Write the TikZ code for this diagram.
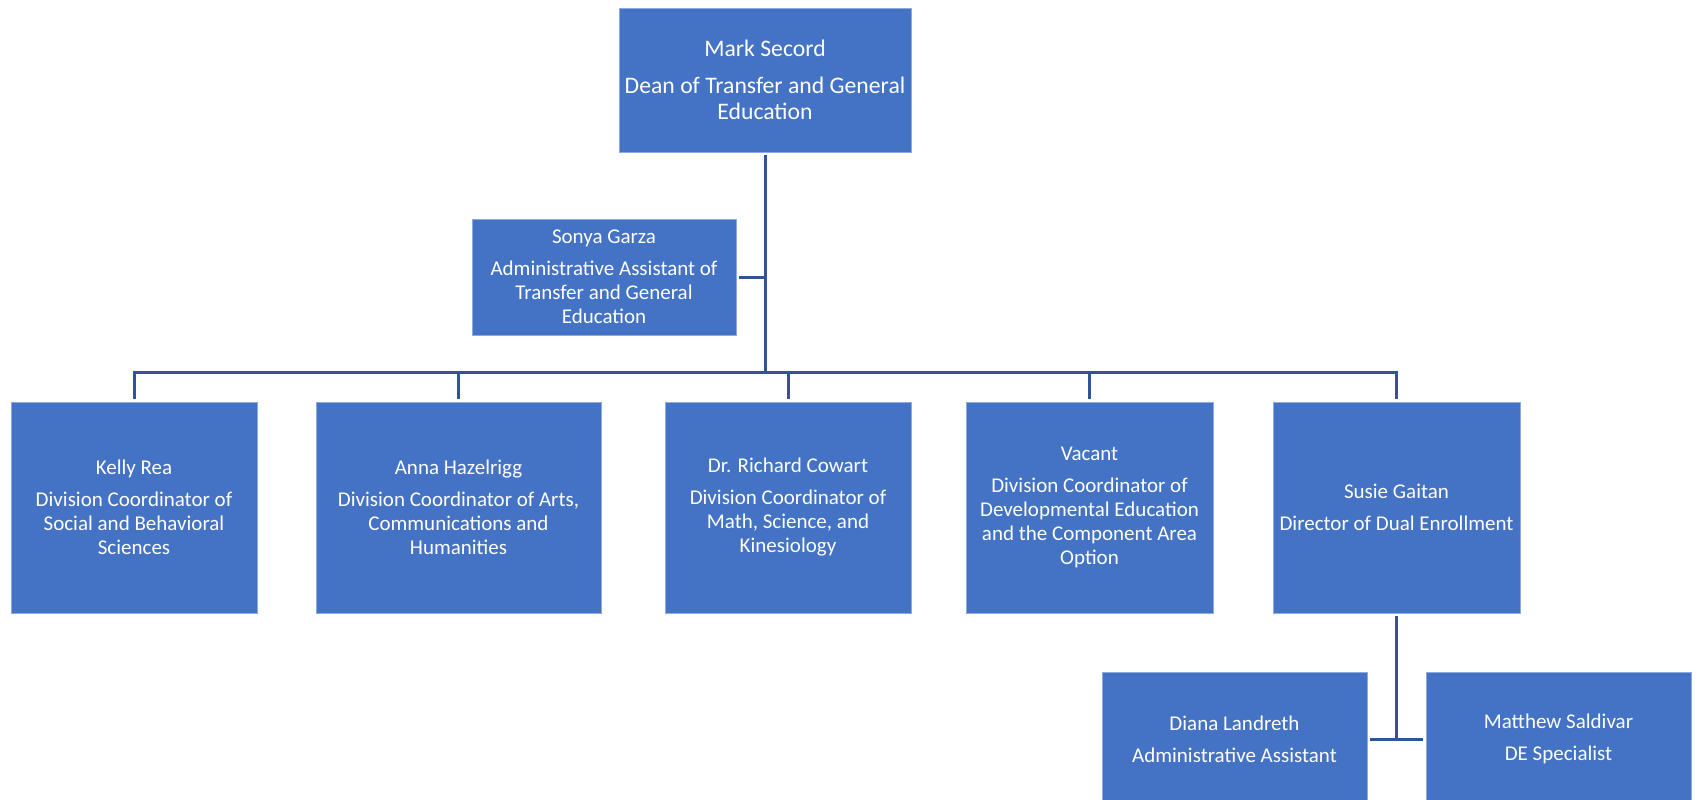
\documentclass[tikz,border=0pt]{standalone}
\usepackage{fontspec}
\setmainfont{Carlito}
\definecolor{boxfill}{HTML}{4472C4}
\definecolor{boxedge}{HTML}{8FAADC}
\definecolor{linec}{HTML}{2F5597}
\tikzset{
  orgbox/.style={fill=boxfill, draw=boxedge, line width=0.8pt, text=white, align=center, inner sep=0pt, font=\fontsize{21}{24}\selectfont},
  conn/.style={draw=linec, line width=3pt}
}
\begin{document}
\begin{tikzpicture}[x=1pt,y=-1pt]
\useasboundingbox (0,0) rectangle (1699,800);
\clip (0,0) rectangle (1699,800);
\node[orgbox, minimum width=292pt, minimum height=144pt, font=\fontsize{23.7}{26.7}\selectfont] (dean) at (765,80) {Mark Secord\\[10pt]Dean of Transfer and General\\Education};
\node[orgbox, minimum width=264pt, minimum height=116pt] (sonya) at (604,277) {Sonya Garza\\[8pt]Administrative Assistant of\\Transfer and General\\Education};
\node[orgbox, minimum width=246pt, minimum height=211pt] (kelly) at (134,507.5) {Kelly Rea\\[8pt]Division Coordinator of\\Social and Behavioral\\Sciences};
\node[orgbox, minimum width=285pt, minimum height=211pt] (anna) at (458.5,507.5) {Anna Hazelrigg\\[8pt]Division Coordinator of Arts,\\Communications and\\Humanities};
\node[orgbox, minimum width=246pt, minimum height=211pt] (richard) at (788,507.5) {Dr. Richard Cowart\\[8pt]Division Coordinator of\\Math, Science, and\\Kinesiology};
\node[orgbox, minimum width=247pt, minimum height=211pt] (vacant) at (1089.5,507.5) {Vacant\\[8pt]Division Coordinator of\\Developmental Education\\and the Component Area\\Option};
\node[orgbox, minimum width=247pt, minimum height=211pt] (susie) at (1396.5,507.5) {Susie Gaitan\\[8pt]Director of Dual Enrollment};
\node[orgbox, minimum width=265pt, minimum height=134pt] (diana) at (1234.5,739) {Diana Landreth\\[8pt]Administrative Assistant};
\node[orgbox, minimum width=265pt, minimum height=134pt] (matthew) at (1558.5,739) {Matthew Saldivar\\[8pt]DE Specialist};
\coordinate (hub) at (765,372);
\coordinate (sub) at (1396.5,739);
\draw[conn, shorten <=3pt] (dean.south) -- (hub);
\draw[conn, shorten <=3pt] (sonya.east) -- (sonya.east -| hub);
\foreach \n in {kelly,anna,richard,vacant,susie}
  \draw[conn, shorten >=3pt] (hub) -| (\n.north);
\draw[conn, shorten <=3pt] (susie.south) -- (sub);
\draw[conn, shorten <=3pt, shorten >=3pt] (diana.east) -- (matthew.west);
\end{tikzpicture}
\end{document}
